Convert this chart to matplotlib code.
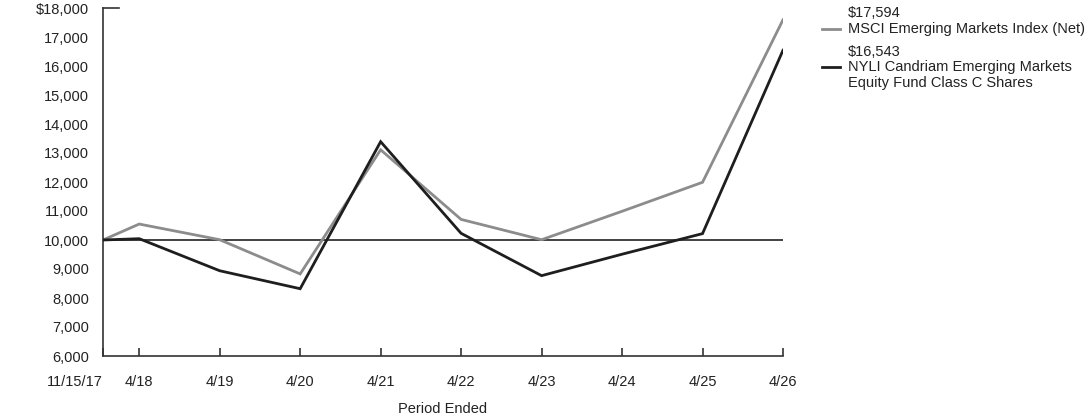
import matplotlib
matplotlib.use("Agg")
import matplotlib.pyplot as plt
from matplotlib.ticker import FuncFormatter

plt.rcParams['font.family'] = ['Liberation Sans', 'DejaVu Sans']

# Data
x_labels = ["11/15/17", "4/18", "4/19", "4/20", "4/21", "4/22", "4/23", "4/24", "4/25", "4/26"]
x_pos = [0.0, 0.45, 1.45, 2.45, 3.45, 4.45, 5.45, 6.45, 7.45, 8.45]
msci = [10000, 10550, 10010, 8830, 13110, 10710, 10010, 10990, 11990, 17594]
fund = [10000, 10045, 8940, 8320, 13390, 10230, 8770, 9510, 10220, 16543]
msci_label = "MSCI Emerging Markets Index (Net)"
fund_label = "NYLI Candriam Emerging Markets\nEquity Fund Class C Shares"
msci_end = "$17,594"
fund_end = "$16,543"

FS = 10.5

fig = plt.figure(figsize=(10.92, 4.17), dpi=100)
ax = fig.add_axes([103/1092, 1-356/417, (783-103)/1092, (356-8)/417])

ax.axhline(10000, color="#222222", lw=1.2, zorder=1)
ax.plot(x_pos, msci, color="#8c8c8c", lw=2, zorder=2, solid_joinstyle="miter")
ax.plot(x_pos, fund, color="#1e1e1e", lw=2, zorder=3, solid_joinstyle="miter")

ax.set_xlim(x_pos[0], x_pos[-1])
ax.set_ylim(6000, 18000)
ax.set_yticks(range(6000, 18001, 1000))
ax.yaxis.set_major_formatter(FuncFormatter(lambda v, p: f"${v:,.0f}" if v == 18000 else f"{v:,.0f}"))
ax.set_xticks(x_pos)
ax.set_xticklabels(x_labels)
ax.get_xticklabels()[0].set_ha("right")

for s in ["top", "right"]:
    ax.spines[s].set_visible(False)
for s in ["left", "bottom"]:
    ax.spines[s].set_color("#333333")
    ax.spines[s].set_linewidth(1.2)

ax.tick_params(axis="x", direction="in", length=6, width=1.2, color="#333333",
               labelsize=FS, pad=14, labelcolor="#222222")
ax.tick_params(axis="y", length=0, labelsize=FS, pad=10, labelcolor="#222222")
# top tick at 18000
ax.plot([0, 0.2], [18000, 18000], color="#333333", lw=1.2, clip_on=False)

ax.set_xlabel("Period Ended", fontsize=FS, color="#222222", labelpad=9)

# Legend (manual)
def fx(px):
    return px / 1092
def fy(py):
    return 1 - py / 417

fig.add_artist(plt.Line2D([fx(822), fx(840)], [fy(29), fy(29)], color="#8c8c8c", lw=2))
fig.text(fx(848), fy(13), msci_end, fontsize=FS, va="center", ha="left", color="#222222")
fig.text(fx(848), fy(29), msci_label, fontsize=FS, va="center", ha="left", color="#222222")

fig.add_artist(plt.Line2D([fx(822), fx(840)], [fy(67), fy(67)], color="#1e1e1e", lw=2))
fig.text(fx(848), fy(52), fund_end, fontsize=FS, va="center", ha="left", color="#222222")
fig.text(fx(848), fy(59.5), fund_label, fontsize=FS, va="top", ha="left", color="#222222",
         linespacing=1.2)

fig.savefig("out.png", dpi=100)
